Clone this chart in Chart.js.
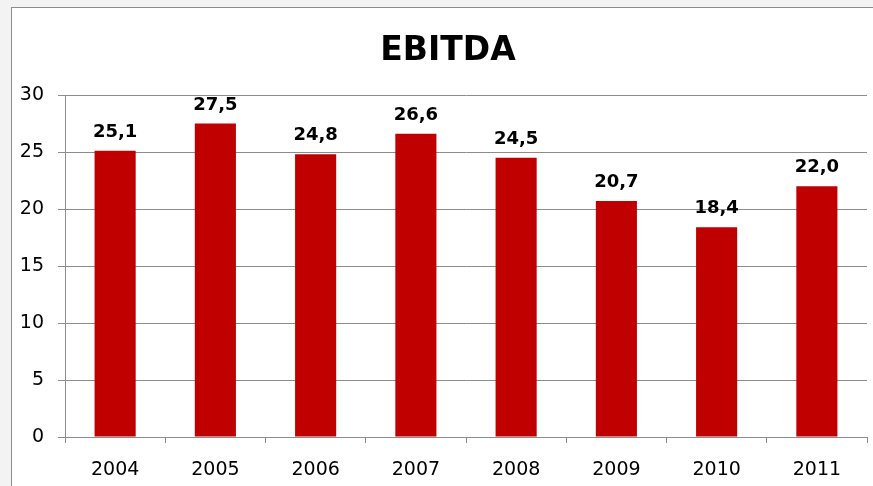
<!DOCTYPE html>
<html>
<head>
<meta charset="utf-8">
<script src="https://cdn.jsdelivr.net/npm/chart.js@4"></script>
<style>
    body { margin: 0; background: #f3f3f3; width: 873px; height: 486px; overflow: hidden; }
    #box { position: absolute; left: 11px; top: 7px; width: 862px; height: 479px;
           background: #fff; border-left: 1px solid #8c8c8c; border-top: 1px solid #8c8c8c; }
    #wrap { width: 861px; height: 478px; }
</style>
</head>
<body>
<div id="box"><div id="wrap"><canvas id="myChart"></canvas></div></div>
<script>
const chartTitle = 'EBITDA';
const years = ['2004', '2005', '2006', '2007', '2008', '2009', '2010', '2011'];
const ebitda = [25.1, 27.5, 24.8, 26.6, 24.5, 20.7, 18.4, 22.0];
const yTicks = [0, 5, 10, 15, 20, 25, 30];

const fontName = "'DejaVu Sans', sans-serif";

// title + values above the bars (comma as decimal sign)
const barLabels = {
    id: 'barLabels',
    afterDatasetsDraw(chart) {
        const ctx = chart.ctx;
        const meta = chart.getDatasetMeta(0);
        ctx.save();
        ctx.fillStyle = '#000';
        ctx.textAlign = 'center';

        ctx.font = 'bold 33px ' + fontName;
        ctx.textBaseline = 'middle';
        ctx.fillText(chartTitle, 436, 43);

        ctx.font = 'bold 18px ' + fontName;
        ctx.textBaseline = 'alphabetic';
        meta.data.forEach(function (bar, i) {
            let txt = ebitda[i].toFixed(1).replace('.', ',');
            ctx.fillText(txt, bar.x, bar.y - 14);
        });
        ctx.restore();
    }
};

const config = {
    type: 'bar',
    data: {
        labels: years,
        datasets: [{
            label: 'EBITDA',
            data: ebitda,
            backgroundColor: '#c00000',
            borderWidth: 0,
            barPercentage: 0.41,
            categoryPercentage: 1
        }]
    },
    options: {
        responsive: true,
        maintainAspectRatio: false,
        animation: false,
        layout: { padding: { top: 87, right: 6, left: 0, bottom: 0 } },
        plugins: {
            legend: { display: false },
            tooltip: { enabled: false },
            title: { display: false }
        },
        scales: {
            x: {
                afterFit(scale) { scale.height = 49; },
                grid: { display: true, drawOnChartArea: false, offset: true, color: '#8c8c8c', tickLength: 6 },
                border: { color: '#8c8c8c' },
                ticks: { color: '#000', font: { family: fontName, size: 19 }, padding: 16, maxRotation: 0 }
            },
            y: {
                min: 0,
                max: 30,
                afterFit(scale) { scale.width = 53; },
                afterBuildTicks(scale) { scale.ticks = yTicks.map(v => ({ value: v })); },
                grid: { color: '#8c8c8c', tickLength: 7 },
                border: { color: '#8c8c8c' },
                ticks: { color: '#000', font: { family: fontName, size: 19 }, padding: 14 }
            }
        }
    },
    plugins: [barLabels]
};

const myChart = new Chart(document.getElementById('myChart'), config);
</script>
</body>
</html>
